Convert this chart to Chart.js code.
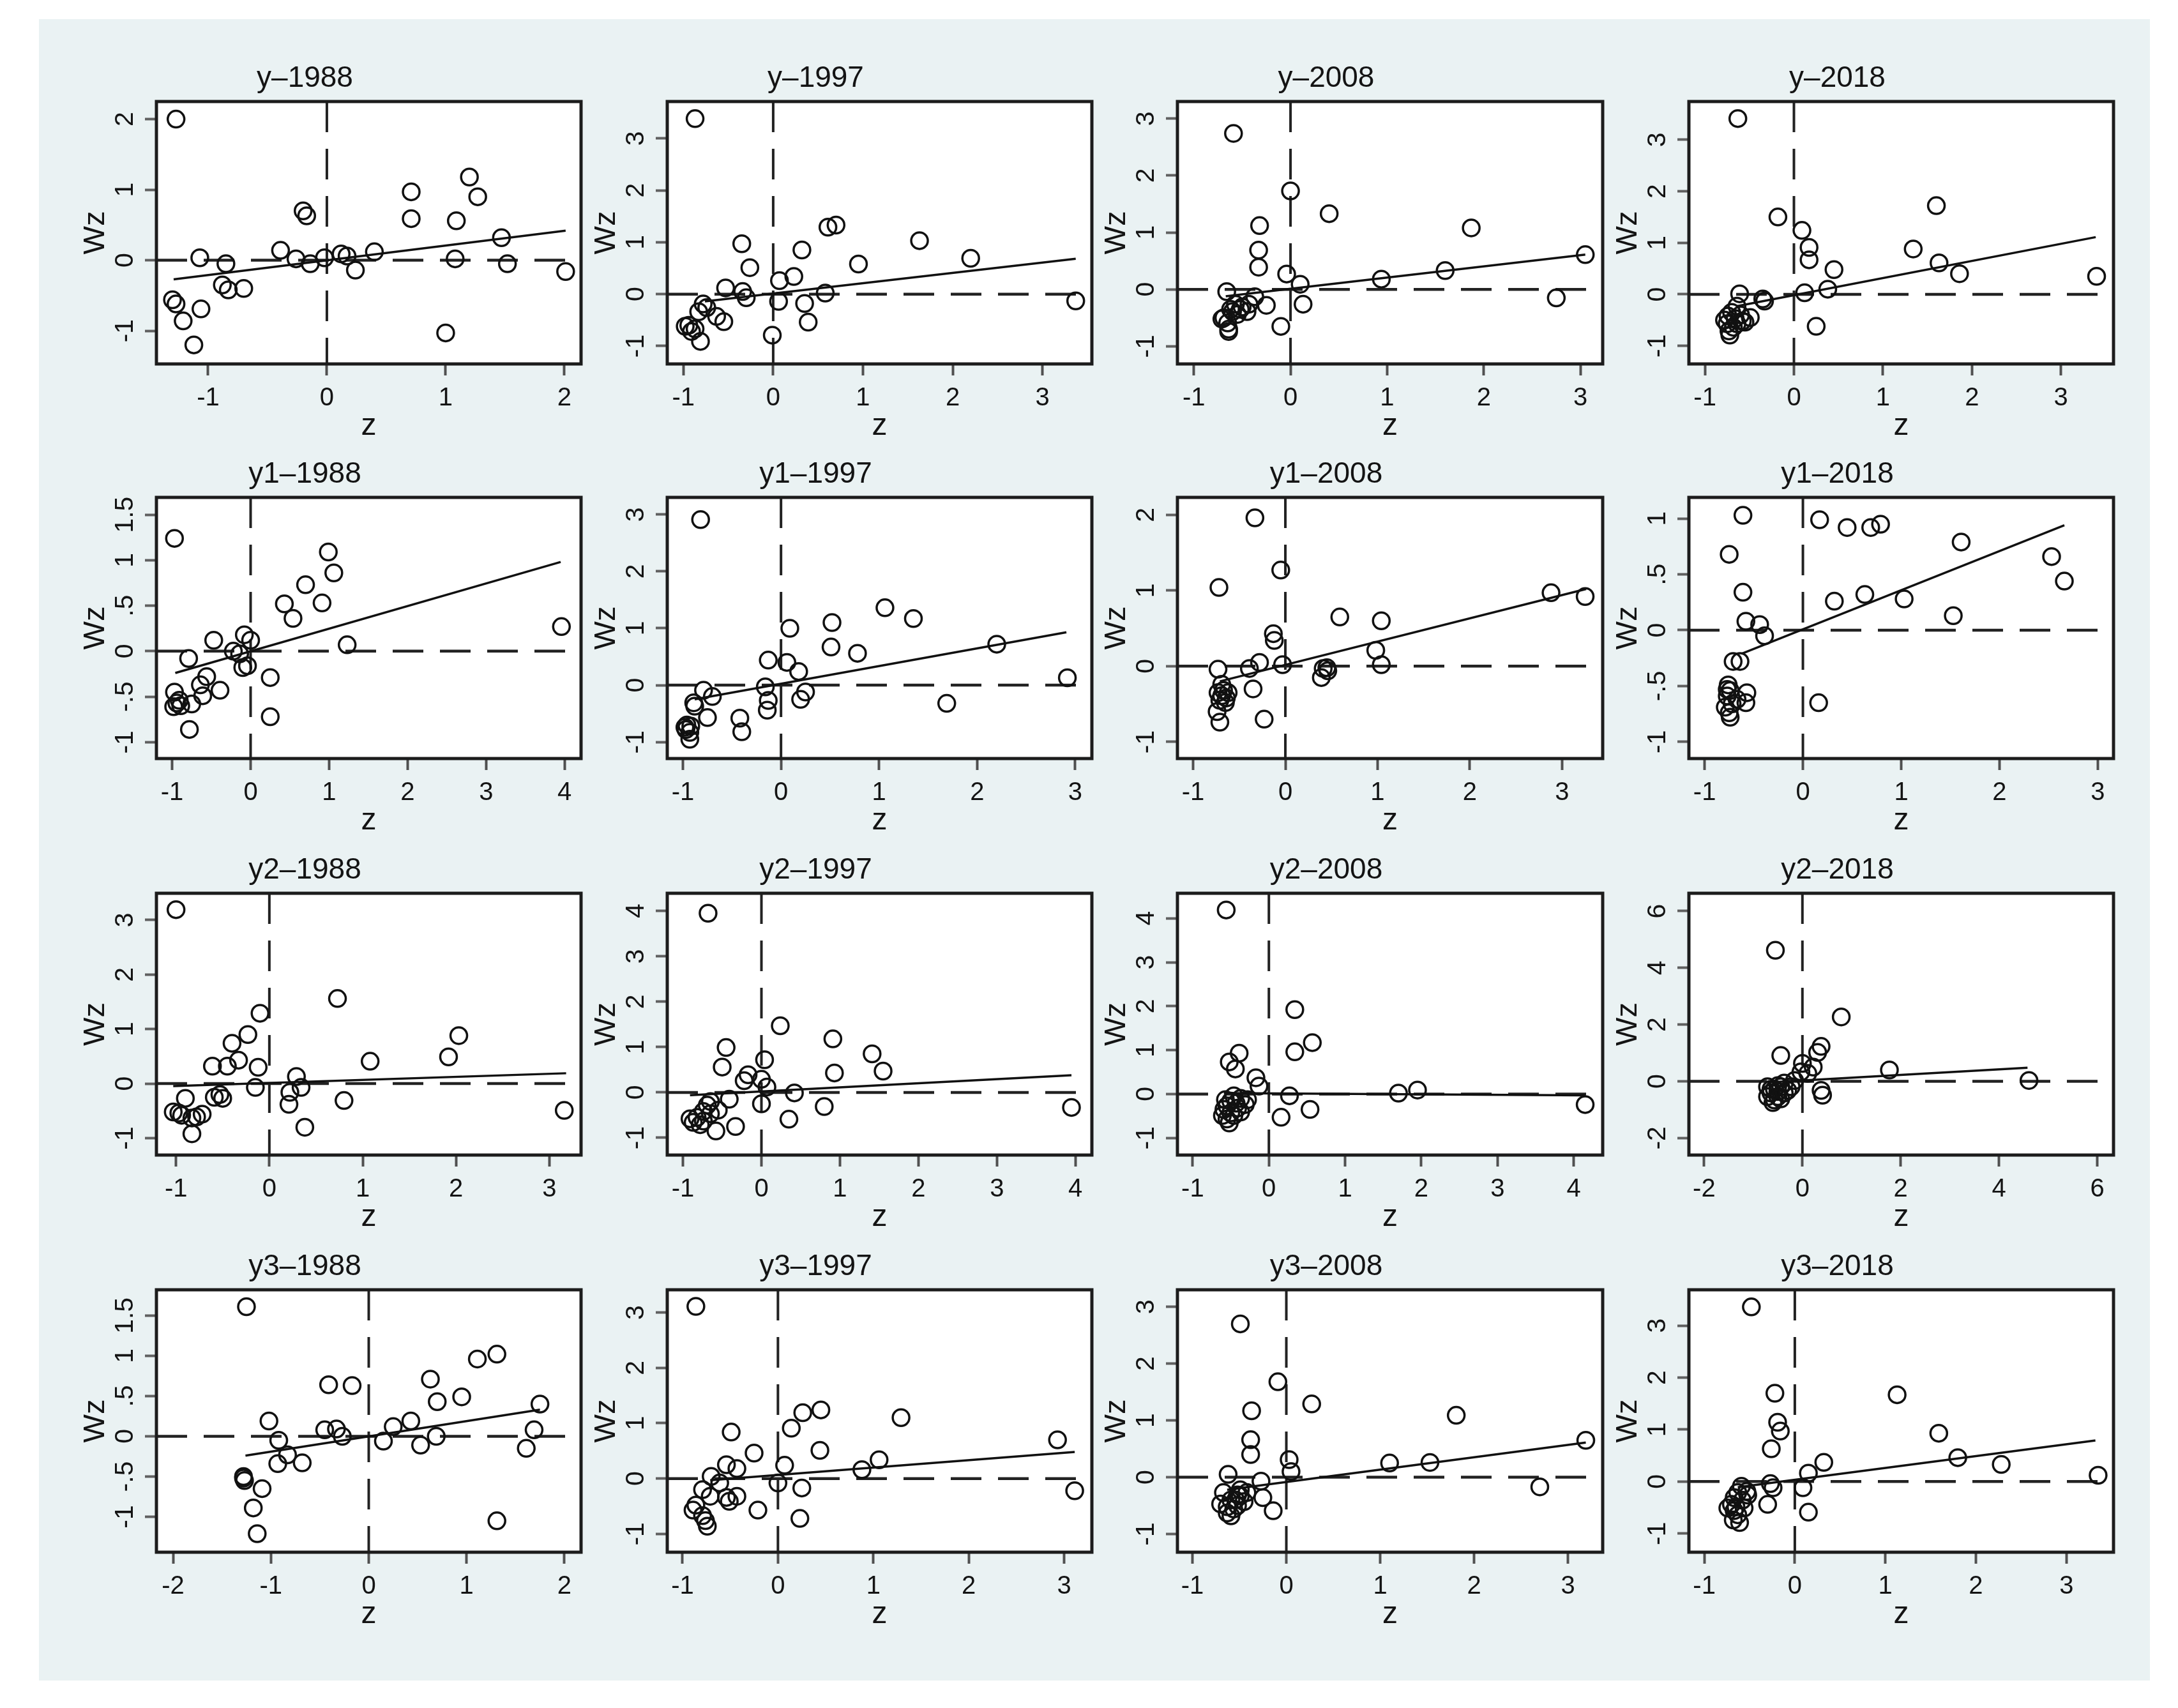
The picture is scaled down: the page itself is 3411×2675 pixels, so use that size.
<!DOCTYPE html>
<html><head><meta charset="utf-8">
<script src="https://cdn.jsdelivr.net/npm/chart.js@4.4.1/dist/chart.umd.min.js"></script>
<style>
html,body{margin:0;padding:0;background:#fff;}
#page{position:relative;width:3411px;height:2675px;background:#fff;overflow:hidden;}
#bg{position:absolute;left:61px;top:30px;width:3306px;height:2602px;background:#eaf2f3;}
canvas{position:absolute;}
</style></head>
<body><div id="page"><div id="bg"></div></div>
<script>
// ---------- DATA ----------
const panelTitles = ['y\u20131988','y\u20131997','y\u20132008','y\u20132018',
  'y1\u20131988','y1\u20131997','y1\u20132008','y1\u20132018',
  'y2\u20131988','y2\u20131997','y2\u20132008','y2\u20132018',
  'y3\u20131988','y3\u20131997','y3\u20132008','y3\u20132018'];

const z_y_1988  = [-1.27,-1.07,-0.85,-0.88,-0.83,-0.70,-1.30,-1.27,-1.21,-1.06,-1.12,-0.39,-0.26,-0.14,-0.02,-0.20,-0.17,0.17,0.24,0.40,0.71,0.71,1.20,1.27,1.09,1.08,1.00,1.47,1.52,2.01,0.12];
const wz_y_1988 = [2.00,0.035,-0.05,-0.35,-0.42,-0.40,-0.56,-0.62,-0.86,-0.69,-1.20,0.14,0.02,-0.05,0.035,0.70,0.63,0.06,-0.14,0.12,0.97,0.59,1.18,0.90,0.56,0.02,-1.03,0.32,-0.05,-0.16,0.09];
const z_y_1997  = [-0.87,-0.35,-0.26,-0.53,-0.34,-0.30,-0.78,-0.74,-0.83,-0.63,-0.55,-0.94,-0.87,-0.91,-0.81,-0.98,-0.01,0.06,0.07,0.23,0.32,0.35,0.39,0.58,0.61,0.70,0.95,1.63,2.20,3.37];
const wz_y_1997 = [3.38,0.97,0.51,0.12,0.05,-0.07,-0.19,-0.26,-0.34,-0.43,-0.53,-0.60,-0.67,-0.72,-0.91,-0.62,-0.79,-0.14,0.26,0.34,0.85,-0.18,-0.54,0.02,1.29,1.33,0.58,1.03,0.69,-0.13];
const z_y_2008  = [-0.59,0.00,0.40,1.87,-0.32,-0.33,-0.33,-0.04,0.10,0.13,0.94,1.60,3.05,2.75,-0.10,-0.25,-0.37,-0.66,-0.57,-0.50,-0.45,-0.62,-0.69,-0.65,-0.64,-0.55,-0.60,-0.52,-0.71,-0.64,-0.43];
const wz_y_2008 = [2.74,1.73,1.33,1.08,1.12,0.69,0.39,0.27,0.09,-0.26,0.18,0.33,0.61,-0.15,-0.65,-0.28,-0.13,-0.04,-0.26,-0.31,-0.39,-0.35,-0.50,-0.59,-0.70,-0.44,-0.39,-0.35,-0.52,-0.74,-0.26];
const z_y_2018  = [-0.63,-0.18,0.09,0.17,0.17,0.45,1.34,1.60,1.63,1.86,3.40,0.38,0.12,0.25,-0.61,-0.35,-0.33,-0.49,-0.55,-0.74,-0.70,-0.75,-0.73,-0.64,-0.66,-0.78,-0.68,-0.60,-0.72,-0.64,-0.58];
const wz_y_2018 = [3.41,1.50,1.24,0.91,0.67,0.48,0.88,1.72,0.61,0.40,0.35,0.10,0.03,-0.62,0.01,-0.09,-0.13,-0.45,-0.54,-0.42,-0.35,-0.57,-0.71,-0.23,-0.47,-0.50,-0.64,-0.40,-0.79,-0.57,-0.52];

const z_y1_1988  = [-0.97,0.99,1.06,0.70,0.91,0.43,0.54,3.96,1.23,-0.47,-0.08,0.00,-0.22,-0.14,-0.79,-0.10,-0.04,0.25,0.25,-0.56,-0.64,-0.39,-0.61,-0.97,-0.94,-0.89,-0.75,-0.98,-0.78,-0.91];
const wz_y1_1988 = [1.24,1.09,0.86,0.73,0.53,0.52,0.36,0.27,0.07,0.12,0.18,0.12,0.00,-0.03,-0.08,-0.18,-0.16,-0.29,-0.72,-0.28,-0.37,-0.43,-0.49,-0.45,-0.57,-0.60,-0.58,-0.61,-0.86,-0.54];
const z_y1_1997  = [-0.82,1.06,1.35,0.52,0.09,0.51,0.78,2.20,2.92,1.69,-0.13,0.06,0.18,-0.16,-0.13,-0.14,0.25,0.20,-0.79,-0.70,-0.89,-0.88,-0.75,-0.42,-0.40,-0.96,-0.97,-0.93,-0.93,-0.98,-0.92];
const wz_y1_1997 = [2.91,1.36,1.17,1.10,1.00,0.67,0.56,0.72,0.13,-0.32,0.44,0.40,0.24,-0.03,-0.27,-0.44,-0.12,-0.25,-0.09,-0.20,-0.31,-0.37,-0.57,-0.58,-0.82,-0.70,-0.78,-0.83,-0.95,-0.74,-0.72];
const z_y1_2008  = [-0.33,-0.05,-0.72,0.59,1.04,2.88,3.25,-0.13,-0.12,0.98,1.04,-0.03,-0.28,-0.39,-0.73,0.45,0.46,0.39,-0.35,-0.23,-0.71,-0.74,-0.67,-0.69,-0.64,-0.73,-0.65,-0.69,-0.62,-0.71,0.41];
const wz_y1_2008 = [1.96,1.27,1.04,0.65,0.60,0.97,0.92,0.43,0.34,0.21,0.02,0.02,0.05,-0.03,-0.04,-0.02,-0.06,-0.15,-0.30,-0.70,-0.74,-0.60,-0.32,-0.39,-0.42,-0.35,-0.48,-0.24,-0.35,-0.45,-0.03];
const z_y1_2018  = [-0.61,0.17,0.45,0.69,0.79,1.61,-0.75,2.53,2.66,-0.61,0.32,0.63,1.03,1.53,-0.58,-0.44,-0.39,-0.71,-0.64,0.16,-0.76,-0.74,-0.77,-0.72,-0.75,-0.74,-0.57,-0.58,-0.67,-0.77,-0.79];
const wz_y1_2018 = [1.03,0.99,0.92,0.92,0.95,0.79,0.68,0.66,0.44,0.34,0.26,0.32,0.28,0.13,0.08,0.05,-0.05,-0.28,-0.28,-0.65,-0.49,-0.54,-0.59,-0.66,-0.74,-0.78,-0.56,-0.65,-0.62,-0.53,-0.69];

const z_y2_1988  = [-1.00,0.73,-0.10,-0.23,-0.40,-0.33,-0.61,-0.45,-0.12,1.08,1.92,2.03,-0.15,0.29,0.34,0.22,0.21,0.80,0.38,3.16,-0.53,-0.50,-0.90,-1.03,-0.94,-0.83,-0.72,-0.83,-0.97,-0.59,-0.78];
const wz_y2_1988 = [3.19,1.56,1.29,0.90,0.74,0.43,0.32,0.32,0.30,0.41,0.49,0.88,-0.07,0.13,-0.07,-0.16,-0.38,-0.31,-0.80,-0.49,-0.20,-0.27,-0.27,-0.52,-0.58,-0.63,-0.56,-0.92,-0.54,-0.25,-0.61];
const z_y2_1997  = [-0.68,0.24,0.91,1.41,1.55,0.93,-0.45,0.04,-0.50,-0.17,-0.22,0.00,0.07,0.42,0.00,0.80,0.35,3.95,-0.41,-0.65,-0.69,-0.74,-0.82,-0.87,-0.78,-0.58,-0.33,-0.91,-0.65,-0.74,-0.55];
const wz_y2_1997 = [3.95,1.47,1.18,0.85,0.47,0.43,0.99,0.72,0.56,0.39,0.26,0.29,0.12,-0.01,-0.25,-0.31,-0.59,-0.33,-0.15,-0.20,-0.28,-0.42,-0.55,-0.66,-0.71,-0.85,-0.75,-0.58,-0.47,-0.63,-0.39];
const z_y2_2008  = [-0.56,0.34,0.57,0.34,-0.39,-0.52,-0.44,-0.17,-0.13,0.27,0.54,0.16,1.70,1.95,4.15,-0.31,-0.37,-0.46,-0.50,-0.55,-0.59,-0.50,-0.55,-0.46,-0.41,-0.61,-0.52,-0.37,-0.28,-0.57,-0.43];
const wz_y2_2008 = [4.19,1.92,1.17,0.96,0.93,0.73,0.57,0.37,0.18,-0.04,-0.35,-0.53,0.02,0.09,-0.24,-0.24,-0.10,-0.04,-0.16,-0.27,-0.35,-0.43,-0.57,-0.49,-0.32,-0.49,-0.66,-0.41,-0.13,-0.13,-0.21];
const z_y2_2018  = [-0.55,0.79,-0.44,0.38,0.31,0.00,0.22,0.11,1.77,4.61,0.41,0.38,-0.16,-0.37,-0.50,-0.57,-0.64,-0.50,-0.57,-0.44,-0.71,-0.64,-0.30,-0.44,-0.60,-0.37,-0.50,-0.71,-0.23,-0.03];
const wz_y2_2018 = [4.62,2.27,0.91,1.23,1.02,0.63,0.50,0.28,0.40,0.03,-0.49,-0.32,0.03,-0.06,-0.15,-0.28,-0.41,-0.54,-0.66,-0.62,-0.54,-0.28,-0.32,-0.19,-0.75,-0.41,-0.36,-0.19,-0.19,0.33];

const z_y3_1988  = [-1.25,1.31,1.11,0.63,-0.41,-0.17,0.95,0.70,1.75,-1.02,0.43,0.25,-0.45,-0.33,-0.27,1.69,0.69,0.15,0.53,-0.92,1.61,-0.83,-0.93,-0.68,-1.28,-1.27,-1.09,-1.18,-1.14,1.31,-1.28];
const wz_y3_1988 = [1.61,1.02,0.96,0.71,0.64,0.63,0.49,0.43,0.40,0.19,0.19,0.12,0.08,0.09,0.00,0.08,0.00,-0.06,-0.11,-0.05,-0.15,-0.23,-0.34,-0.33,-0.50,-0.55,-0.65,-0.89,-1.21,-1.05,-0.52];
const z_y3_1997  = [-0.86,0.45,0.26,1.29,0.14,-0.49,2.93,0.44,-0.25,1.06,0.07,-0.54,-0.43,0.88,-0.70,0.00,0.25,3.11,-0.61,-0.79,-0.54,-0.43,-0.71,-0.51,-0.21,0.23,-0.86,-0.89,-0.79,-0.74,-0.76];
const wz_y3_1997 = [3.11,1.24,1.19,1.10,0.91,0.84,0.70,0.51,0.46,0.34,0.24,0.25,0.18,0.16,0.04,-0.08,-0.17,-0.22,-0.08,-0.20,-0.34,-0.32,-0.32,-0.41,-0.57,-0.72,-0.48,-0.57,-0.67,-0.86,-0.76];
const z_y3_2008  = [-0.49,-0.09,0.27,1.81,-0.37,-0.38,-0.38,3.19,0.03,0.05,1.10,1.53,2.70,-0.62,-0.27,-0.25,-0.14,-0.49,-0.52,-0.59,-0.63,-0.56,-0.63,-0.45,-0.67,-0.52,-0.59,-0.49,-0.70,-0.42,-0.54];
const wz_y3_2008 = [2.70,1.68,1.29,1.09,1.17,0.66,0.40,0.65,0.31,0.10,0.25,0.26,-0.17,0.05,-0.07,-0.36,-0.59,-0.22,-0.31,-0.40,-0.52,-0.56,-0.63,-0.43,-0.27,-0.50,-0.68,-0.33,-0.47,-0.27,-0.40];
const z_y3_2018  = [-0.48,-0.22,1.13,-0.19,-0.16,1.59,-0.26,1.80,0.32,2.28,0.15,3.35,-0.27,-0.24,0.09,0.15,-0.30,-0.59,-0.63,-0.67,-0.70,-0.67,-0.68,-0.58,-0.56,-0.63,-0.52,-0.74,-0.61,-0.65,-0.53];
const wz_y3_2018 = [3.36,1.70,1.67,1.14,0.97,0.93,0.63,0.46,0.37,0.33,0.16,0.12,-0.04,-0.12,-0.12,-0.59,-0.44,-0.09,-0.21,-0.31,-0.44,-0.56,-0.74,-0.36,-0.51,-0.64,-0.26,-0.51,-0.79,-0.49,-0.19];

// fitted line end points [z1, wz1, z2, wz2]
const fitLines = [
  [-1.29,-0.27,2.01,0.42],[-0.76,-0.14,3.37,0.68],[-0.67,-0.12,3.05,0.61],[-0.64,-0.23,3.39,1.11],
  [-0.96,-0.24,3.95,0.98],[-0.88,-0.25,2.91,0.93],[-0.71,-0.20,3.26,1.02],[-0.62,-0.21,2.66,0.94],
  [-1.03,-0.045,3.18,0.19],[-0.91,-0.06,3.95,0.38],[-0.59,0.02,4.15,-0.03],[-0.70,-0.04,4.58,0.48],
  [-1.26,-0.24,1.75,0.33],[-0.71,-0.03,3.11,0.48],[-0.63,-0.22,3.19,0.61],[-0.63,-0.11,3.32,0.79]];

const xLimits = [[-1.435,2.14],[-1.18,3.55],[-1.17,3.23],[-1.18,3.59],
  [-1.20,4.21],[-1.16,3.17],[-1.17,3.44],[-1.16,3.16],
  [-1.21,3.34],[-1.20,4.21],[-1.20,4.38],[-2.31,6.33],
  [-2.17,2.17],[-1.16,3.29],[-1.16,3.37],[-1.17,3.52]];
const yLimits = [[-1.47,2.25],[-1.345,3.71],[-1.31,3.30],[-1.35,3.74],
  [-1.18,1.69],[-1.29,3.30],[-1.22,2.23],[-1.15,1.19],
  [-1.31,3.49],[-1.38,4.39],[-1.39,4.57],[-2.60,6.63],
  [-1.44,1.82],[-1.33,3.41],[-1.32,3.30],[-1.36,3.69]];

const xTickLabels = [
  ['-1','0','1','2'],['-1','0','1','2','3'],['-1','0','1','2','3'],['-1','0','1','2','3'],
  ['-1','0','1','2','3','4'],['-1','0','1','2','3'],['-1','0','1','2','3'],['-1','0','1','2','3'],
  ['-1','0','1','2','3'],['-1','0','1','2','3','4'],['-1','0','1','2','3','4'],['-2','0','2','4','6'],
  ['-2','-1','0','1','2'],['-1','0','1','2','3'],['-1','0','1','2','3'],['-1','0','1','2','3']];
const yTickLabels = [
  ['-1','0','1','2'],['-1','0','1','2','3'],['-1','0','1','2','3'],['-1','0','1','2','3'],
  ['-1','-.5','0','.5','1','1.5'],['-1','0','1','2','3'],['-1','0','1','2'],['-1','-.5','0','.5','1'],
  ['-1','0','1','2','3'],['-1','0','1','2','3','4'],['-1','0','1','2','3','4'],['-2','0','2','4','6'],
  ['-1','-.5','0','.5','1','1.5'],['-1','0','1','2','3'],['-1','0','1','2','3'],['-1','0','1','2','3']];

const zData  = [z_y_1988,z_y_1997,z_y_2008,z_y_2018,z_y1_1988,z_y1_1997,z_y1_2008,z_y1_2018,
                z_y2_1988,z_y2_1997,z_y2_2008,z_y2_2018,z_y3_1988,z_y3_1997,z_y3_2008,z_y3_2018];
const wzData = [wz_y_1988,wz_y_1997,wz_y_2008,wz_y_2018,wz_y1_1988,wz_y1_1997,wz_y1_2008,wz_y1_2018,
                wz_y2_1988,wz_y2_1997,wz_y2_2008,wz_y2_2018,wz_y3_1988,wz_y3_1997,wz_y3_2008,wz_y3_2018];

// ---------- LAYOUT / STYLE ----------
const plotLeft   = [245, 1045, 1844, 2645];
const plotRight  = [910, 1710, 2510, 3310];
const plotTop    = [159, 779, 1399, 2020];
const plotBottom = [570, 1188, 1809, 2431];
const PADL = 200, PADR = 200, TITLEH = 110, XAXH = 130;
const FONT = "'Liberation Sans', Arial, Helvetica, sans-serif";
const TXT = '#141414';

Chart.defaults.font.family = FONT;
Chart.defaults.color = TXT;

const framePlugin = {
  id: 'frame',
  beforeDraw(chart) {
    const a = chart.chartArea, ctx = chart.ctx;
    ctx.save(); ctx.fillStyle = '#ffffff';
    ctx.fillRect(a.left, a.top, a.right - a.left, a.bottom - a.top);
    ctx.restore();
  },
  afterDatasetsDraw(chart) {
    const a = chart.chartArea, ctx = chart.ctx;
    ctx.save(); ctx.strokeStyle = '#1c1c1c'; ctx.lineWidth = 5;
    ctx.strokeRect(a.left, a.top, a.right - a.left, a.bottom - a.top);
    ctx.restore();
  },
  afterDraw(chart) {
    const ys = chart.scales.y, a = chart.chartArea, ctx = chart.ctx;
    const labels = chart.options.plugins.frame.yLabels;
    ctx.save();
    ctx.fillStyle = TXT; ctx.font = '41px ' + FONT;
    ctx.textAlign = 'center'; ctx.textBaseline = 'middle';
    labels.forEach(lab => {
      const py = ys.getPixelForValue(Number(lab));
      ctx.save(); ctx.translate(a.left - 48, py); ctx.rotate(-Math.PI / 2);
      ctx.fillText(lab, 0, 0); ctx.restore();
    });
    ctx.restore();
  }
};

const page = document.getElementById('page');
for (let i = 0; i < 16; i++) {
  const row = Math.floor(i / 4), col = i % 4;
  const L = plotLeft[col], R = plotRight[col], T = plotTop[row], B = plotBottom[row];
  const cv = document.createElement('canvas');
  const W = (R - L) + PADL + PADR, H = (B - T) + TITLEH + XAXH;
  cv.width = W; cv.height = H;
  cv.style.left = (L - PADL) + 'px'; cv.style.top = (T - TITLEH) + 'px';
  cv.style.width = W + 'px'; cv.style.height = H + 'px';
  page.appendChild(cv);

  const xl = xLimits[i], yl = yLimits[i], f = fitLines[i];
  const pts = zData[i].map((z, k) => ({x: z, y: wzData[i][k]}));
  const xt = xTickLabels[i], yt = yTickLabels[i];

  new Chart(cv.getContext('2d'), {
    type: 'scatter',
    data: { datasets: [
      { data: pts, pointStyle: 'circle', pointRadius: 13, pointBorderWidth: 3.5,
        pointBackgroundColor: 'rgba(0,0,0,0)', pointBorderColor: '#111', showLine: false, clip: false },
      { data: [{x: f[0], y: f[1]}, {x: f[2], y: f[3]}], showLine: true, pointRadius: 0,
        borderColor: '#111', borderWidth: 3.5, fill: false },
      { data: [{x: xl[0], y: 0}, {x: xl[1], y: 0}], showLine: true, pointRadius: 0,
        borderColor: '#222', borderWidth: 4.5, borderDash: [48, 26], fill: false },
      { data: [{x: 0, y: yl[1]}, {x: 0, y: yl[0]}], showLine: true, pointRadius: 0,
        borderColor: '#222', borderWidth: 4, borderDash: [48, 26], fill: false }
    ]},
    options: {
      responsive: false, animation: false, devicePixelRatio: 1,
      events: [],
      layout: { padding: { left: 0, right: PADR, top: 0, bottom: 0 } },
      plugins: {
        legend: { display: false }, tooltip: { enabled: false },
        title: { display: true, text: panelTitles[i], color: TXT,
                 font: { family: FONT, size: 46, weight: 'normal', lineHeight: 1 },
                 padding: { top: 51, bottom: 13 } },
        frame: { yLabels: yt }
      },
      scales: {
        x: {
          type: 'linear', min: xl[0], max: xl[1],
          afterBuildTicks: s => { s.ticks = xt.map(v => ({ value: Number(v) })); },
          afterFit: s => { s.height = XAXH; },
          grid: { display: true, drawOnChartArea: false, drawTicks: true, tickLength: 18,
                  tickWidth: 4, tickColor: '#505050', color: '#505050' },
          border: { display: false },
          ticks: { color: TXT, font: { family: FONT, size: 40, lineHeight: 1.2 }, padding: 12,
                   minRotation: 0, maxRotation: 0, autoSkip: false,
                   callback: (v, idx) => xt[idx] },
          title: { display: true, text: 'z', color: TXT,
                   font: { family: FONT, size: 48, lineHeight: 1 }, padding: { top: 0, bottom: 8 } }
        },
        y: {
          type: 'linear', min: yl[0], max: yl[1],
          afterBuildTicks: s => { s.ticks = yt.map(v => ({ value: Number(v) })); },
          afterFit: s => { s.width = PADL; },
          grid: { display: true, drawOnChartArea: false, drawTicks: true, tickLength: 18,
                  tickWidth: 4, tickColor: '#606060', color: '#606060' },
          border: { display: false },
          ticks: { display: false },
          title: { display: true, text: 'Wz', color: TXT,
                   font: { family: FONT, size: 47, lineHeight: 1 }, padding: { top: 82, bottom: 0 } }
        }
      }
    },
    plugins: [framePlugin]
  });
}
</script>
</body></html>
